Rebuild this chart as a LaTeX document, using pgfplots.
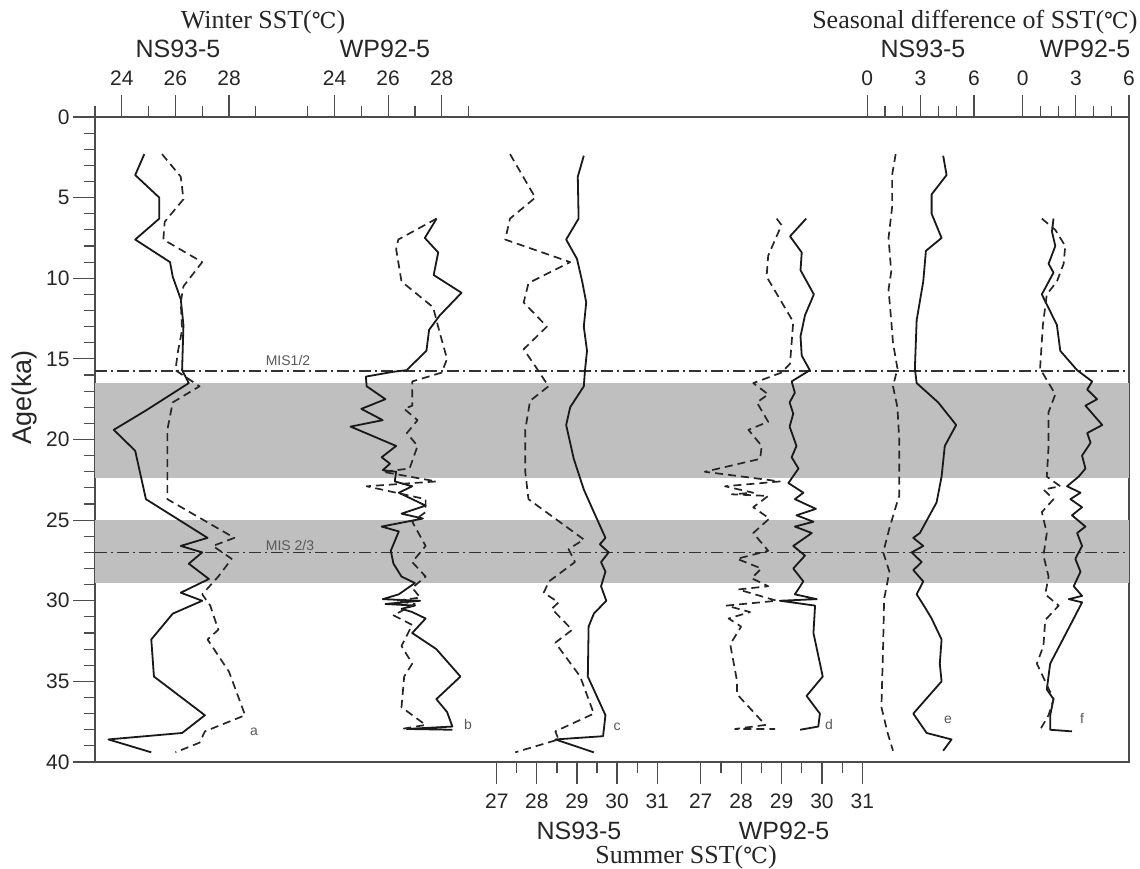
\documentclass[border=0pt]{standalone}
\usepackage{fontspec}
\setmainfont{Liberation Sans}
\newfontfamily\tnr{Liberation Serif}
\newfontfamily\dvs{DejaVu Serif}
\usepackage{pgfplots}
\pgfplotsset{compat=1.18}
\newcommand{\degC}{{\dvs\fontsize{22}{22}\selectfont ℃}}
\pgfplotsset{
  common/.style={scale only axis, width=1034pt, height=645pt,
    ymin=0, ymax=40, y dir=reverse,
    axis line style={black!70, line width=1.3pt},
    tick style={black!70, line width=1.2pt},
    major tick length=22pt, minor tick length=11pt,
    tick align=outside,
    /pgf/number format/assume math mode=true,
    ticklabel style={font=\fontsize{21}{21}\selectfont, text=black!85},
  },
  over/.style={common, hide y axis, xticklabel shift=6pt},
  sol/.style={black!90, line width=1.8pt, line join=round},
  das/.style={black!85, line width=1.7pt, dash pattern=on 8pt off 5pt, line join=round},
}
\begin{document}
\begin{tikzpicture}
\path[use as bounding box] (-95pt,-106pt) rectangle (1045pt,762pt);
% ---------------- base frame ----------------
\begin{axis}[common, xmin=0, xmax=1034, xtick=\empty,
  ytick={0,5,...,40}, minor ytick={1,...,39}, ytick pos=left,
  yticklabel shift=0pt, clip=false]
  \fill[black!25] (axis cs:0,16.5) rectangle (axis cs:1034,22.4);
  \fill[black!25] (axis cs:0,25.0) rectangle (axis cs:1034,28.9);
  \draw[black!80, line width=1.3pt, dash pattern=on 12pt off 4pt on 2pt off 4pt]
    (axis cs:0,15.75) -- (axis cs:1034,15.75);
  \draw[black!80, line width=1.3pt, dash pattern=on 12pt off 4pt on 2pt off 4pt]
    (axis cs:0,27.0) -- (axis cs:1034,27.0);
  \node[font=\fontsize{14}{14}\selectfont, text=black!65] at (axis cs:193,15.1) {MIS1/2};
  \node[font=\fontsize{14}{14}\selectfont, text=black!65] at (axis cs:195,26.6) {MIS 2/3};
  \node[font=\fontsize{14}{14}\selectfont, text=black!65] at (axis cs:159,38.1) {a};
  \node[font=\fontsize{14}{14}\selectfont, text=black!65] at (axis cs:373,37.7) {b};
  \node[font=\fontsize{14}{14}\selectfont, text=black!65] at (axis cs:522,37.8) {c};
  \node[font=\fontsize{14}{14}\selectfont, text=black!65] at (axis cs:734,37.7) {d};
  \node[font=\fontsize{14}{14}\selectfont, text=black!65] at (axis cs:853,37.4) {e};
  \node[font=\fontsize{14}{14}\selectfont, text=black!65] at (axis cs:987,37.3) {f};
  \node[rotate=90, font=\fontsize{27}{27}\selectfont, text=black!85] at (axis cs:-70,17.4) {Age(ka)};
  % titles
  \node[font=\tnr\fontsize{26}{26}\selectfont, text=black!85] at (axis cs:168,-5.9) {Winter SST(\degC)};
  \node[font=\fontsize{25}{25}\selectfont, text=black!85] at (axis cs:83,-4.2) {NS93-5};
  \node[font=\fontsize{25}{25}\selectfont, text=black!85] at (axis cs:290,-4.2) {WP92-5};
  \node[anchor=east, font=\tnr\fontsize{26}{26}\selectfont, text=black!85] at (axis cs:1046,-5.9) {Seasonal difference of SST(\degC)};
  \node[font=\fontsize{25}{25}\selectfont, text=black!85] at (axis cs:828,-4.2) {NS93-5};
  \node[font=\fontsize{25}{25}\selectfont, text=black!85] at (axis cs:990,-4.2) {WP92-5};
  \node[font=\fontsize{25}{25}\selectfont, text=black!85] at (axis cs:484,44.3) {NS93-5};
  \node[font=\fontsize{25}{25}\selectfont, text=black!85] at (axis cs:689,44.3) {WP92-5};
  \node[font=\tnr\fontsize{26}{26}\selectfont, text=black!85] at (axis cs:591,45.9) {Summer SST(\degC)};
\end{axis}
% ---------------- a: NS93-5 winter ----------------
\begin{axis}[over, xmin=23, xmax=61.582, xtick={24,26,28}, minor xtick={23,25,27,29},
  xtick pos=right, xticklabel pos=right]
\addplot[sol] coordinates {(24.84,2.3) (24.5,3.6) (25.4,5.0) (25.4,6.3) (24.5,7.6) (25.8,9.0) (25.9,9.9) (26.2,11.3) (26.3,12.9) (26.25,15.7) (26.5,16.5) (24.9,18.2) (23.7,19.4) (24.5,20.7) (24.9,23.7) (27.2,26.1) (26.2,26.6) (27.0,27.0) (26.5,27.7) (27.25,28.65) (26.2,29.5) (27.0,30.0) (25.9,30.8) (25.1,32.4) (25.2,34.7) (27.1,37.1) (26.25,38.2) (23.5,38.6) (25.1,39.4)};
\addplot[das] coordinates {(25.5,2.3) (26.2,3.7) (26.3,5.1) (25.6,6.5) (25.55,7.6) (27.0,9.0) (26.3,10.5) (26.2,11.5) (26.25,13.2) (26.1,14.5) (26.0,15.7) (26.9,16.7) (25.9,17.7) (25.7,19.4) (25.7,23.7) (28.2,26.1) (27.4,26.6) (28.1,27.4) (27.6,28.5) (27.0,29.6) (27.3,30.3) (27.6,31.8) (27.2,32.4) (28.0,34.4) (28.6,37.1) (27.1,38.1) (26.9,38.8) (26.0,39.4)};
\end{axis}
% ---------------- b: WP92-5 winter ----------------
\begin{axis}[over, xmin=15.063, xmax=53.646, xtick={24,26,28}, minor xtick={23,25,27,29},
  xtick pos=right, xticklabel pos=right]
\addplot[sol] coordinates {(27.81,6.3) (27.37,7.5) (27.87,8.4) (27.7,9.8) (28.74,10.9) (27.93,12.3) (27.53,13.2) (27.43,14.5) (26.69,15.7) (26.19,15.8) (25.17,16.1) (25.2,16.7) (25.9,17.5) (25.0,18.1) (25.8,18.8) (24.6,19.2) (26.3,20.4) (25.76,21.1) (26.07,21.5) (25.8,21.9) (26.3,22.0) (26.25,22.6) (26.9,22.9) (26.4,23.3) (27.4,24.1) (26.5,24.6) (27.3,24.9) (25.76,25.4) (26.4,25.7) (26.1,26.9) (26.2,27.7) (26.5,28.5) (27.0,28.9) (26.4,29.6) (25.8,29.9) (27.2,30.0) (25.9,30.2) (27.0,30.3) (26.5,30.5) (26.9,30.7) (27.4,31.1) (26.9,32.0) (27.8,33.0) (28.7,34.7) (27.8,36.1) (28.2,36.9) (28.4,37.8) (26.7,37.95) (28.4,38.0)};
\addplot[das] coordinates {(27.81,6.3) (26.38,7.6) (26.3,8.2) (26.5,10.2) (27.68,11.8) (27.93,13.4) (28.2,15.0) (28.0,15.85) (26.9,16.4) (26.9,17.9) (26.6,18.1) (27.1,18.8) (26.7,19.6) (27.1,20.4) (26.8,21.8) (25.8,22.0) (27.8,22.6) (25.2,22.9) (27.4,23.7) (27.4,24.5) (26.9,25.1) (27.4,26.6) (26.9,27.6) (27.4,28.5) (26.9,29.2) (27.2,29.8) (26.3,30.0) (27.0,30.2) (26.2,30.9) (26.9,31.5) (26.5,32.8) (26.9,33.9) (26.6,34.7) (26.5,36.6) (27.4,37.7) (26.5,37.95)};
\end{axis}
% ---------------- c: NS93-5 summer ----------------
\begin{axis}[over, xmin=16.980, xmax=42.766, xtick={27,...,31}, minor xtick={27.5,28.5,29.5,30.5},
  xtick pos=left, xticklabel pos=left]
\addplot[sol] coordinates {(29.17,2.4) (29.02,3.7) (29.04,6.3) (28.73,7.6) (29.0,8.8) (29.13,10.2) (29.23,11.5) (29.17,13.0) (29.25,14.5) (29.2,15.7) (29.17,16.7) (28.83,18.0) (28.73,19.1) (28.92,21.2) (29.17,23.1) (29.42,24.5) (29.71,26.1) (29.57,26.5) (29.79,27.0) (29.6,27.6) (29.71,28.2) (29.6,29.1) (29.73,30.0) (29.42,30.8) (29.29,31.6) (29.27,34.7) (29.71,37.1) (29.65,38.4) (28.46,38.6) (29.42,39.4)};
\addplot[das] coordinates {(27.33,2.3) (27.96,5.0) (27.33,6.3) (27.21,7.6) (28.83,9.0) (27.79,10.3) (27.67,11.5) (28.25,13.0) (27.67,14.4) (28.0,15.6) (28.29,16.7) (27.83,17.6) (27.71,19.4) (27.71,22.0) (27.79,23.7) (29.17,26.2) (28.79,26.8) (28.95,27.6) (28.3,28.8) (28.17,29.5) (28.54,30.1) (28.37,30.5) (28.88,31.8) (28.46,32.6) (29.08,34.7) (29.42,37.0) (28.46,38.1) (28.54,38.6) (27.46,39.4)};
\end{axis}
% ---------------- d: WP92-5 summer ----------------
\begin{axis}[over, xmin=12.007, xmax=37.601, xtick={27,...,31}, minor xtick={27.5,28.5,29.5,30.5},
  xtick pos=left, xticklabel pos=left]
\addplot[sol] coordinates {(29.61,6.3) (29.21,7.4) (29.5,8.4) (29.47,9.5) (29.8,11.0) (29.58,12.3) (29.47,13.6) (29.5,14.8) (29.7,15.7) (29.25,16.4) (29.33,17.1) (29.2,17.7) (29.29,18.4) (29.2,19.2) (29.37,20.4) (29.25,21.1) (29.42,21.8) (29.17,22.7) (29.54,23.3) (29.33,23.7) (29.85,24.3) (29.37,24.7) (29.79,25.1) (29.33,25.4) (29.75,25.8) (29.29,26.6) (29.58,27.2) (29.29,28.0) (29.54,28.8) (29.33,29.6) (29.87,29.9) (28.96,30.0) (29.83,30.3) (29.79,32.0) (30.02,34.7) (29.62,35.9) (29.95,37.0) (29.91,37.8) (29.46,38.0)};
\addplot[das] coordinates {(28.88,6.3) (29.0,6.7) (28.67,8.6) (28.63,9.9) (29.29,12.7) (29.21,15.3) (29.0,15.85) (28.3,16.5) (28.67,17.2) (28.39,17.7) (28.67,18.9) (28.18,19.4) (28.51,20.4) (28.47,21.2) (27.1,22.0) (28.96,22.6) (27.6,22.9) (28.3,23.3) (27.77,23.4) (28.67,23.5) (28.3,24.2) (28.7,24.9) (28.3,25.8) (28.67,26.9) (27.9,27.4) (28.5,28.0) (28.26,28.6) (28.67,29.1) (27.93,29.3) (28.88,30.0) (27.64,30.3) (28.22,30.7) (27.69,31.1) (28.0,31.6) (27.73,32.7) (27.9,35.0) (27.9,35.8) (28.6,37.7) (27.85,37.95) (28.84,37.95)};
\end{axis}
% ---------------- e: NS93-5 seasonal difference ----------------
\begin{axis}[over, xmin=-43.382, xmax=14.708, xtick={0,3,6}, minor xtick={1,2,4,5},
  xtick pos=right, xticklabel pos=right]
\addplot[sol] coordinates {(4.27,2.4) (4.46,3.6) (3.62,4.8) (3.62,6.0) (4.18,7.5) (3.3,8.3) (3.15,10.2) (2.78,12.6) (2.68,15.6) (2.78,16.5) (3.99,17.7) (5.0,19.1) (4.36,20.4) (4.18,22.3) (3.9,23.9) (2.96,25.8) (2.59,26.1) (3.15,26.6) (2.5,27.0) (3.06,27.6) (2.59,28.1) (3.15,28.8) (2.78,29.6) (3.24,30.4) (3.62,31.1) (4.18,32.4) (4.08,33.9) (4.18,35.0) (2.59,37.0) (3.34,38.2) (4.74,38.6) (4.27,39.3)};
\addplot[das] coordinates {(1.6,2.3) (1.4,3.6) (1.4,5.6) (1.2,7.5) (1.35,9.6) (1.2,10.7) (1.35,12.6) (1.45,14.0) (1.7,15.6) (1.45,16.7) (1.7,18.0) (1.8,20.0) (1.8,22.0) (1.8,23.5) (1.6,24.2) (1.25,25.5) (0.9,27.0) (1.25,28.2) (0.95,29.9) (0.9,32.6) (0.8,36.6) (1.15,38.2) (1.45,39.3)};
\end{axis}
% ---------------- f: WP92-5 seasonal difference ----------------
\begin{axis}[over, xmin=-52.353, xmax=6, xtick={0,3,6}, minor xtick={1,2,4,5},
  xtick pos=right, xticklabel pos=right]
\addplot[sol] coordinates {(1.74,6.3) (1.65,7.1) (1.84,8.0) (1.46,9.1) (1.74,9.65) (1.08,11.0) (1.93,12.9) (2.12,14.5) (3.07,15.7) (3.92,16.4) (3.64,16.9) (4.2,17.5) (3.54,17.9) (4.49,19.1) (3.64,19.6) (3.83,20.2) (3.35,21.0) (3.54,21.8) (3.16,22.3) (2.5,22.9) (3.26,23.3) (2.69,23.7) (3.35,24.2) (2.78,24.7) (3.54,25.4) (3.07,25.8) (3.35,26.6) (2.97,27.4) (3.26,28.2) (2.88,29.1) (3.35,29.7) (2.6,29.9) (3.35,30.1) (2.88,31.1) (2.31,32.3) (1.55,33.9) (1.36,35.5) (1.74,36.1) (1.55,37.1) (1.55,38.0) (2.78,38.1)};
\addplot[das] coordinates {(1.08,6.3) (1.84,7.0) (2.4,8.0) (2.31,9.1) (1.93,10.2) (1.36,11.0) (1.14,12.9) (0.98,15.6) (1.84,17.2) (1.46,18.3) (1.46,20.4) (1.36,22.3) (2.12,22.9) (1.17,23.1) (1.74,23.7) (1.08,24.5) (1.36,25.8) (1.17,27.2) (1.46,28.5) (1.27,29.6) (2.03,30.3) (1.27,31.2) (1.17,32.8) (0.8,33.9) (1.74,36.1) (1.46,37.1) (0.98,38.0)};
\end{axis}
\end{tikzpicture}
\end{document}
